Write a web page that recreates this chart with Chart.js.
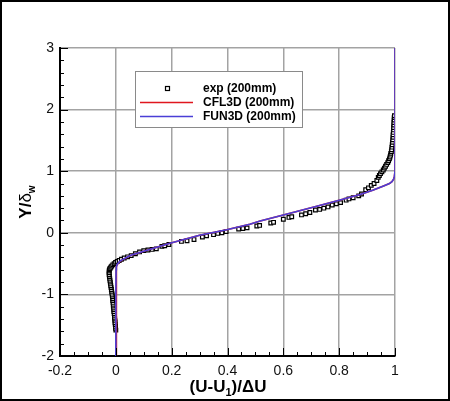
<!DOCTYPE html>
<html>
<head>
<meta charset="utf-8">
<script src="https://cdn.jsdelivr.net/npm/chart.js@4"></script>
<style>
html,body{margin:0;padding:0;background:#fff;}
canvas{display:block;}
</style>
</head>
<body>
<canvas id="c" width="450" height="401"></canvas>
<script>
// ---- data ----
const xTickValues = [-0.2, 0, 0.2, 0.4, 0.6, 0.8, 1];
const xTickLabels = ['-0.2', '0', '0.2', '0.4', '0.6', '0.8', '1'];
const yTickValues = [-2, -1, 0, 1, 2, 3];
const yTickLabels = ['-2', '-1', '0', '1', '2', '3'];

const seriesLabels = ['exp (200mm)', 'CFL3D (200mm)', 'FUN3D (200mm)'];

const expX = [0.000,-0.001,-0.001,-0.002,-0.003,-0.003,-0.004,-0.005,-0.005,-0.006,-0.007,-0.007,-0.008,-0.009,-0.009,-0.010,-0.011,-0.011,-0.012,-0.013,-0.014,-0.015,-0.016,-0.017,-0.018,-0.019,-0.020,-0.021,-0.022,-0.023,-0.024,-0.024,-0.024,-0.023,-0.021,-0.018,-0.015,-0.011,-0.006,-0.001,
  0.005,0.012,0.020,0.030,0.042,0.055,0.070,
  0.085,0.100,0.115,0.130,0.145,0.165,0.175,0.190,0.235,0.255,0.280,0.310,0.325,0.350,0.365,0.380,0.395,0.440,0.455,0.470,0.505,0.515,0.555,0.565,0.600,0.620,0.630,0.665,0.680,0.695,0.715,0.730,0.745,0.760,0.775,0.790,0.805,0.825,0.835,0.850,0.870,0.880,0.895,0.905,0.915,0.925,0.935,
  0.940,0.944,0.948,0.953,0.958,0.962,0.966,0.970,0.974,0.977,0.980,0.982,0.984,0.985,0.987,0.988,0.989,0.990,0.991,0.992,0.993,0.993,0.994,0.995,0.995,0.996,0.996,0.997,0.997,0.998];
const expY = [-1.58,-1.55,-1.52,-1.49,-1.46,-1.43,-1.40,-1.37,-1.34,-1.31,-1.28,-1.25,-1.22,-1.19,-1.16,-1.13,-1.10,-1.07,-1.04,-1.01,-0.98,-0.95,-0.92,-0.89,-0.86,-0.83,-0.80,-0.77,-0.74,-0.71,-0.68,-0.65,-0.62,-0.60,-0.58,-0.56,-0.54,-0.52,-0.50,-0.48,
  -0.465,-0.45,-0.43,-0.41,-0.39,-0.37,-0.34,
  -0.31,-0.29,-0.28,-0.27,-0.26,-0.22,-0.21,-0.19,-0.14,-0.13,-0.11,-0.07,-0.05,-0.03,-0.01,0.00,0.02,0.06,0.07,0.08,0.11,0.12,0.16,0.17,0.22,0.25,0.26,0.29,0.31,0.33,0.37,0.38,0.40,0.42,0.45,0.47,0.49,0.53,0.55,0.57,0.60,0.63,0.70,0.73,0.77,0.80,0.85,
  0.90,0.93,0.96,0.99,1.02,1.05,1.08,1.11,1.14,1.17,1.20,1.23,1.26,1.29,1.32,1.35,1.39,1.43,1.47,1.51,1.55,1.59,1.63,1.67,1.71,1.75,1.79,1.83,1.87,1.90];

const cflX = [0.001,0.001,0.002,0.003,0.006,0.016,0.031,0.052,0.100,0.194,0.300,0.397,0.480,0.517,0.600,0.720,0.800,0.875,0.920,0.959,0.980,0.989,0.995,0.998,1.000,1.000];
const cflY = [-2.00,-1.00,-0.60,-0.55,-0.51,-0.46,-0.42,-0.37,-0.30,-0.17,-0.04,0.05,0.14,0.19,0.29,0.43,0.53,0.62,0.69,0.76,0.80,0.83,0.87,0.92,1.00,3.00];

const funX = [0.000,0.000,0.001,0.002,0.005,0.015,0.030,0.051,0.100,0.194,0.300,0.397,0.480,0.517,0.600,0.720,0.800,0.875,0.920,0.959,0.980,0.989,0.995,0.998,1.000,1.000];
const funY = [-2.00,-1.00,-0.60,-0.55,-0.51,-0.46,-0.42,-0.37,-0.30,-0.17,-0.04,0.05,0.14,0.19,0.29,0.43,0.53,0.62,0.69,0.76,0.80,0.83,0.87,0.92,1.00,3.00];

const toPts = (xs, ys) => xs.map((x, i) => ({x: x, y: ys[i]}));

// ---- styles ----
const FONT = "'Liberation Sans', Arial, Helvetica, sans-serif";
const RED = '#e0161e';
const BLUE = '#4a3fd6';

const PLOT = {left: 60, right: 395, top: 48, bottom: 356};

const framePlugin = {
  id: 'frame',
  beforeDraw(chart) {
    const ctx = chart.ctx;
    ctx.save();
    ctx.fillStyle = '#fff';
    ctx.fillRect(0, 0, chart.width, chart.height);
    ctx.restore();
  },
  afterDraw(chart) {
    const ctx = chart.ctx;
    ctx.save();
    ctx.strokeStyle = '#000';
    ctx.lineWidth = 2;
    ctx.strokeRect(1, 1, chart.width - 2, chart.height - 2);
    ctx.restore();
  }
};

const inwardTicks = {
  id: 'inwardTicks',
  afterDraw(chart) {
    const ctx = chart.ctx;
    const xs = chart.scales.x, ys = chart.scales.y;
    const a = chart.chartArea;
    ctx.save();
    ctx.strokeStyle = '#000';
    ctx.lineWidth = 1;
    ctx.beginPath();
    for (let i = -4; i <= 20; i++) {
      const v = i * 0.05;
      const px = Math.round(xs.getPixelForValue(v)) + 0.5;
      const len = (i % 4 === 0) ? 8 : 4;
      ctx.moveTo(px, a.bottom);
      ctx.lineTo(px, a.bottom - len);
    }
    for (let i = -10; i <= 15; i++) {
      const v = i * 0.2;
      const py = Math.round(ys.getPixelForValue(v)) + 0.5;
      const len = (i % 5 === 0) ? 8 : 4;
      ctx.moveTo(a.left, py);
      ctx.lineTo(a.left + len, py);
    }
    ctx.stroke();
    ctx.restore();
  }
};

const legendPlugin = {
  id: 'boxLegend',
  afterDraw(chart) {
    const ctx = chart.ctx;
    const bx = 135, by = 71, bw = 167, bh = 56;
    ctx.save();
    ctx.fillStyle = '#fff';
    ctx.fillRect(bx, by, bw, bh);
    ctx.strokeStyle = '#8a8a8a';
    ctx.lineWidth = 1;
    ctx.strokeRect(bx + 0.5, by + 0.5, bw, bh);
    const rows = [88.5, 102.5, 116.5];
    ctx.font = 'bold 12px ' + FONT;
    ctx.textBaseline = 'middle';
    ctx.fillStyle = '#000';
    chart.data.datasets.forEach((ds, i) => {
      const y = rows[i];
      if (i === 0) {
        ctx.lineWidth = 1.2;
        ctx.strokeStyle = '#000';
        ctx.fillStyle = '#fff';
        ctx.fillRect(165.5, y - 2, 4, 4);
        ctx.strokeRect(165.5, y - 2, 4, 4);
      } else {
        ctx.strokeStyle = ds.borderColor;
        ctx.lineWidth = 1.6;
        ctx.beginPath();
        ctx.moveTo(140, y);
        ctx.lineTo(193, y);
        ctx.stroke();
      }
      ctx.fillStyle = '#000';
      ctx.fillText(ds.label, 203, y + 0.5);
    });
    ctx.restore();
  }
};

const titlesPlugin = {
  id: 'axisTitles',
  afterDraw(chart) {
    const ctx = chart.ctx;
    ctx.save();
    ctx.fillStyle = '#000';
    ctx.textBaseline = 'alphabetic';
    const big = 'bold 17px ' + FONT, small = 'bold 11px ' + FONT;
    const parts = [['(U-U', big, 0], ['1', small, 4], [')/ΔU', big, 0]];
    let total = 0;
    parts.forEach(p => { ctx.font = p[1]; total += ctx.measureText(p[0]).width; });
    let x = 228 - total / 2;
    const base = 392;
    parts.forEach(p => { ctx.font = p[1]; ctx.fillText(p[0], x, base + p[2]); x += ctx.measureText(p[0]).width; });
    ctx.translate(31, 202);
    ctx.rotate(-Math.PI / 2);
    const yparts = [['Y/', big, 0], ['δ', '17px ' + FONT, 0], ['w', 'bold 10px ' + FONT, 4]];
    total = 0;
    yparts.forEach(p => { ctx.font = p[1]; total += ctx.measureText(p[0]).width; });
    x = -total / 2;
    yparts.forEach(p => { ctx.font = p[1]; ctx.fillText(p[0], x, p[2]); x += ctx.measureText(p[0]).width; });
    ctx.restore();
  }
};

new Chart(document.getElementById('c'), {
  type: 'scatter',
  data: {
    datasets: [
      {
        label: seriesLabels[0],
        data: toPts(expX, expY),
        showLine: false,
        pointStyle: 'rect',
        pointRadius: 2.6,
        pointBorderWidth: 1.2,
        pointBorderColor: '#000',
        pointBackgroundColor: '#fff',
        order: 2
      },
      {
        label: seriesLabels[1],
        data: toPts(cflX, cflY),
        showLine: true,
        borderColor: RED,
        borderWidth: 1.6,
        pointRadius: 0,
        tension: 0,
        order: 1
      },
      {
        label: seriesLabels[2],
        data: toPts(funX, funY),
        showLine: true,
        borderColor: BLUE,
        borderWidth: 1.6,
        pointRadius: 0,
        tension: 0,
        order: 0
      }
    ]
  },
  options: {
    responsive: false,
    devicePixelRatio: 1,
    animation: false,
    events: [],
    layout: {padding: {top: PLOT.top, right: 450 - PLOT.right, left: 0, bottom: 0}},
    plugins: {legend: {display: false}, tooltip: {enabled: false}},
    scales: {
      x: {
        type: 'linear',
        min: -0.2, max: 1,
        afterBuildTicks(s) { s.ticks = xTickValues.map(v => ({value: v})); },
        afterFit(s) { s.height = 401 - PLOT.bottom; },
        ticks: {
          callback(v) { const i = xTickValues.findIndex(t => Math.abs(t - v) < 1e-9); return i >= 0 ? xTickLabels[i] : ''; },
          font: {family: FONT, size: 14},
          color: '#111',
          padding: 7,
          maxRotation: 0,
          autoSkip: false
        },
        grid: {color: '#a3a3a3', lineWidth: 1.5, drawTicks: false},
        border: {color: '#000', width: 2}
      },
      y: {
        type: 'linear',
        min: -2, max: 3,
        afterBuildTicks(s) { s.ticks = yTickValues.map(v => ({value: v})); },
        afterFit(s) { s.width = PLOT.left; },
        ticks: {
          callback(v) { const i = yTickValues.findIndex(t => Math.abs(t - v) < 1e-9); return i >= 0 ? yTickLabels[i] : ''; },
          font: {family: FONT, size: 14},
          color: '#111',
          padding: 6,
          autoSkip: false
        },
        grid: {color: '#a3a3a3', lineWidth: 1.5, drawTicks: false},
        border: {color: '#000', width: 2}
      }
    }
  },
  plugins: [framePlugin, inwardTicks, legendPlugin, titlesPlugin]
});
</script>
</body>
</html>
